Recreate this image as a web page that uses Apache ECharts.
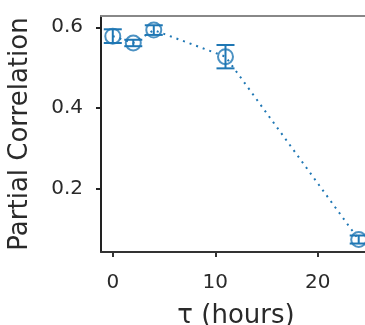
<!DOCTYPE html>
<html><head><meta charset="utf-8">
<script src="https://cdn.jsdelivr.net/npm/echarts@6/dist/echarts.min.js"></script>
<style>html,body{margin:0;padding:0;background:#fff}#c{width:365px;height:325px}</style>
</head><body><div id="c"></div>
<script>
var tau = [0, 2, 4, 11, 24];
var corr = [0.578, 0.561, 0.593, 0.527, 0.073];
var err = [0.017, 0.008, 0.012, 0.029, 0.010];
var xTicks = [0, 10, 20];
var yTicks = [0.2, 0.4, 0.6];

var color = '#1f77b4';
var font = 'DejaVu Sans';
var pts = tau.map(function (t, i) { return [t, corr[i]]; });
var errData = tau.map(function (t, i) { return [t, corr[i] - err[i], corr[i] + err[i]]; });

var chart = echarts.init(document.getElementById('c'), null, {renderer: 'canvas'});
chart.setOption({
  animation: false,
  grid: {left: 101, top: 16, bottom: 73, right: -6, containLabel: false, outerBoundsMode: 'none'},
  xAxis: [{
    type: 'value', min: -1.15, max: 25.2, position: 'bottom',
    name: 'τ (hours)', nameLocation: 'middle', nameGap: 51,
    nameTextStyle: {fontFamily: font, fontSize: 26, color: '#2a2a2a'},
    axisLine: {show: true, onZero: false, lineStyle: {color: '#333', width: 2}},
    axisTick: {show: true, length: 5, lineStyle: {color: '#333', width: 2}, customValues: xTicks},
    axisLabel: {fontFamily: font, fontSize: 20, color: '#2a2a2a', margin: 21, customValues: xTicks},
    splitLine: {show: false}
  }, {
    type: 'value', min: -1.15, max: 25.2, position: 'top',
    axisLine: {show: true, onZero: false, lineStyle: {color: '#888', width: 2}},
    axisTick: {show: false}, axisLabel: {show: false}, splitLine: {show: false}
  }],
  yAxis: {
    type: 'value', min: 0.042, max: 0.628,
    name: 'Partial Correlation', nameLocation: 'middle', nameGap: 68,
    nameTextStyle: {fontFamily: font, fontSize: 26, color: '#2a2a2a'},
    axisLine: {show: true, onZero: false, lineStyle: {color: '#222', width: 2}},
    axisTick: {show: true, length: 5, lineStyle: {color: '#222', width: 2}, customValues: yTicks},
    axisLabel: {fontFamily: font, fontSize: 20, color: '#2a2a2a', margin: 18, customValues: yTicks,
      formatter: function (v) { return v.toFixed(1); }},
    splitLine: {show: false}
  },
  series: [{
    type: 'line', data: pts, symbol: 'none',
    lineStyle: {color: color, width: 2, type: [2, 5]}, z: 2
  }, {
    type: 'custom', data: errData, z: 3,
    renderItem: function (params, api) {
      var x = api.value(0);
      var lo = api.coord([x, api.value(1)]);
      var hi = api.coord([x, api.value(2)]);
      var cw = 9;
      var st = {stroke: color, lineWidth: 2, fill: null};
      return {type: 'group', children: [
        {type: 'line', shape: {x1: lo[0], y1: lo[1], x2: hi[0], y2: hi[1]}, style: st},
        {type: 'line', shape: {x1: lo[0] - cw, y1: lo[1], x2: lo[0] + cw, y2: lo[1]}, style: st},
        {type: 'line', shape: {x1: hi[0] - cw, y1: hi[1], x2: hi[0] + cw, y2: hi[1]}, style: st}
      ]};
    }
  }, {
    type: 'scatter', data: pts, symbol: 'circle', symbolSize: 15, z: 4,
    itemStyle: {color: 'rgba(0,0,0,0)', borderColor: color, borderWidth: 2}
  }]
});
</script></body></html>
